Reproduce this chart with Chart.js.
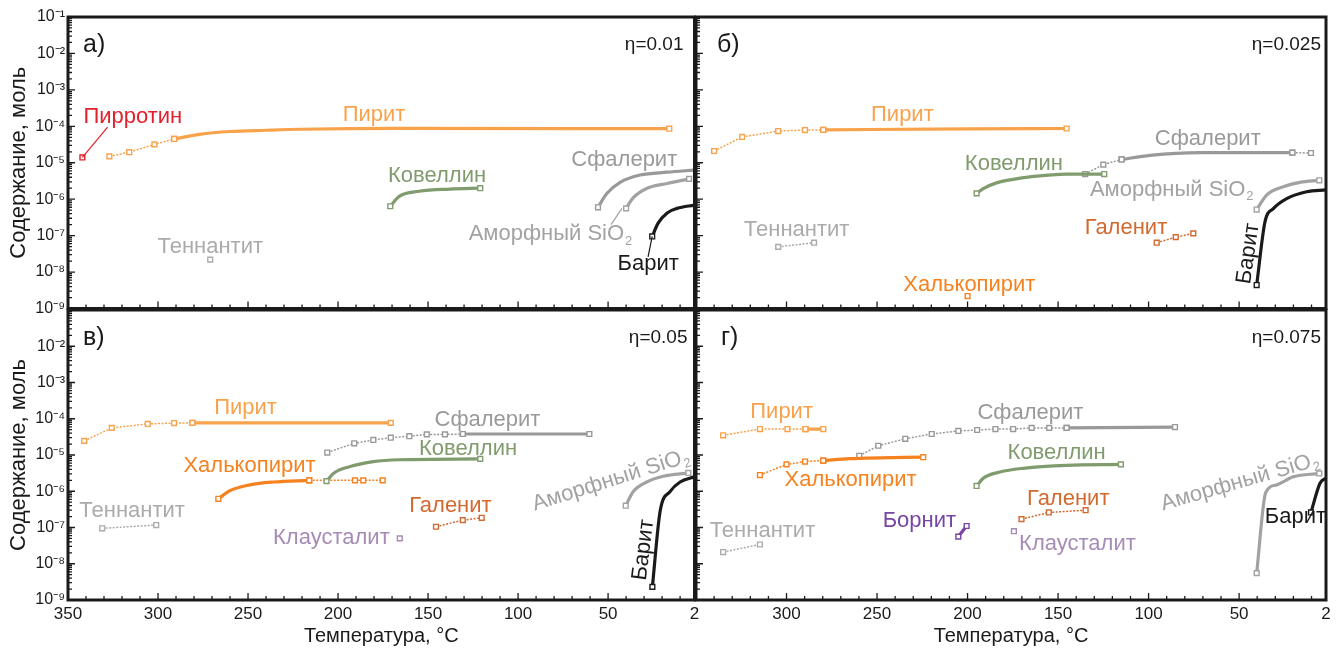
<!DOCTYPE html>
<html>
<head>
<meta charset="utf-8">
<script src="https://cdn.jsdelivr.net/npm/chart.js@4.4.1/dist/chart.umd.min.js"></script>
<style>
  body { margin: 0; background: #fff; width: 1343px; height: 655px; position: relative; overflow: hidden; }
  canvas { position: absolute; }
</style>
</head>
<body>
<canvas id="pa" width="697" height="330" style="left:0;top:0"></canvas>
<canvas id="pb" width="653" height="330" style="left:690px;top:0"></canvas>
<canvas id="pc" width="707" height="365" style="left:0;top:290px"></canvas>
<canvas id="pd" width="653" height="365" style="left:690px;top:290px"></canvas>
<script>
// axis ticks
const X_TICKS_LEFT = [350, 300, 250, 200, 150, 100, 50, 2];
const X_TICKS_RIGHT = [300, 250, 200, 150, 100, 50, 2];
const Y_TICKS_TOP = [1e-1, 1e-2, 1e-3, 1e-4, 1e-5, 1e-6, 1e-7, 1e-8, 1e-9];
const Y_TICKS_BOTTOM = [1e-2, 1e-3, 1e-4, 1e-5, 1e-6, 1e-7, 1e-8, 1e-9];

// а) eta = 0.01   [temperature, mol]
const A_PYRRHOTITE = [[342, 1.4e-5]];
const A_PYRITE_DOT = [[327, 1.5e-5], [316, 1.95e-5], [302, 3.2e-5], [291, 4.5e-5]];
const A_PYRITE_LINE = [[291, 4.5e-5], [277, 6.0e-5], [260, 7.2e-5], [240, 7.8e-5], [221, 8.3e-5], [166, 8.8e-5], [16, 8.6e-5]];
const A_COVELLITE_LINE = [[171, 6.4e-7], [166, 1.2e-6], [155, 1.65e-6], [138, 1.9e-6], [121, 2.0e-6]];
const A_SPHALERITE_LINE = [[55.6, 6.0e-7], [50.6, 1.45e-6], [43.3, 2.9e-6], [32.2, 4.6e-6], [17.2, 5.5e-6], [2, 6.3e-6]];
const A_SIO2_LINE = [[40, 5.6e-7], [36, 1.1e-6], [28.3, 2.0e-6], [17.2, 2.7e-6], [5, 3.6e-6]];
const A_BARITE_LINE = [[25.5, 9.5e-8], [22.2, 2.2e-7], [17.2, 4.2e-7], [11.7, 5.6e-7], [2, 6.9e-7]];
const A_TENNANTITE = [[271, 2.2e-8]];

// б) eta = 0.025
const B_PYRITE_DOT = [[340, 2.1e-5], [324.5, 5.1e-5], [304.6, 7.4e-5], [289.8, 7.9e-5], [279.7, 8.0e-5]];
const B_PYRITE_LINE = [[279.7, 8.0e-5], [200, 8.5e-5], [145.3, 8.7e-5]];
const B_TENNANTITE_DOT = [[304.6, 4.9e-8], [284.8, 6.4e-8]];
const B_CHALCOPYRITE = [[200, 2.2e-9]];
const B_COVELLITE_LINE = [[195, 1.44e-6], [191.3, 1.95e-6], [184, 2.8e-6], [174.8, 3.5e-6], [165.5, 4.1e-6], [145.3, 4.9e-6], [124.5, 4.9e-6]];
const B_SPHALERITE_DOT = [[135.1, 4.9e-6], [125, 8.9e-6], [114.9, 1.23e-5]];
const B_SPHALERITE_LINE = [[114.9, 1.23e-5], [99.2, 1.6e-5], [71.6, 1.9e-5], [20.6, 1.9e-5]];
const B_SPHALERITE_TAIL = [[20.6, 1.9e-5], [10.3, 1.85e-5]];
const B_SIO2_LINE = [[40.3, 5.2e-7], [34.8, 1.3e-6], [25.6, 2.2e-6], [16.4, 2.9e-6], [5.7, 3.3e-6]];
const B_BARITE_LINE = [[40.3, 4.4e-9], [35.7, 2.4e-7], [31.1, 5.5e-7], [23.7, 1.04e-6], [12.7, 1.6e-6], [2, 1.8e-6]];
const B_GALENA_DOT = [[95.5, 6.4e-8], [85, 9.1e-8], [75.3, 1.15e-7]];

// в) eta = 0.05
const C_PYRITE_DOT = [[341, 2.45e-5], [325.7, 5.6e-5], [305.7, 7.2e-5], [291.1, 7.6e-5], [280.9, 7.7e-5]];
const C_PYRITE_LINE = [[280.9, 7.7e-5], [170.7, 7.7e-5]];
const C_TENNANTITE_DOT = [[331, 9.5e-8], [301, 1.17e-7]];
const C_CHALCOPYRITE_LINE = [[266.5, 6.2e-7], [260, 1.04e-6], [249, 1.5e-6], [235.7, 1.8e-6], [216, 2.0e-6]];
const C_CHALCOPYRITE_DOT = [[216, 2.0e-6], [190.6, 2.0e-6], [186, 2.0e-6], [175.2, 2.0e-6]];
const C_COVELLITE_LINE = [[206.4, 1.9e-6], [202.6, 3.1e-6], [193.3, 4.8e-6], [180.4, 6.6e-6], [165.6, 7.4e-6], [121, 7.8e-6]];
const C_SPHALERITE_DOT = [[206, 1.17e-5], [191, 2.1e-5], [180.4, 2.6e-5], [170.7, 3.0e-5], [160.4, 3.3e-5], [150.7, 3.7e-5], [140.6, 3.7e-5], [130.7, 3.8e-5]];
const C_SPHALERITE_LINE = [[130.7, 3.8e-5], [60.4, 3.8e-5]];
const C_GALENA_DOT = [[145.6, 1.05e-7], [130.7, 1.6e-7], [120.2, 1.85e-7]];
const C_CLAUSTHALITE = [[165.7, 5.0e-8]];
const C_SIO2_LINE = [[40.2, 4.0e-7], [36, 9.8e-7], [28.5, 1.8e-6], [19.3, 2.6e-6], [5.4, 3.2e-6]];
const C_BARITE_LINE = [[25.4, 2.3e-9], [21.1, 2.8e-7], [15.6, 9.8e-7], [10, 1.8e-6], [2, 2.5e-6]];

// г) eta = 0.075
const D_PYRITE_DOT = [[335, 3.5e-5], [314.7, 5.2e-5], [299.5, 5.2e-5], [289.5, 5.2e-5]];
const D_PYRITE_LINE = [[289.5, 5.2e-5], [279.7, 5.2e-5]];
const D_CHALCOPYRITE_DOT = [[314.7, 2.8e-6], [300, 5.5e-6], [289.8, 6.6e-6], [279.7, 7.0e-6]];
const D_CHALCOPYRITE_LINE = [[279.7, 7.0e-6], [265, 7.9e-6], [254.9, 8.2e-6], [224.5, 8.7e-6]];
const D_SPHALERITE_DOT = [[259.8, 9.5e-6], [249.3, 1.8e-5], [234.4, 2.8e-5], [219.8, 3.8e-5], [205.1, 4.6e-5], [194.7, 4.9e-5], [184.6, 5.2e-5], [174.8, 5.2e-5], [164.6, 5.6e-5], [154.9, 5.6e-5], [145.3, 5.6e-5]];
const D_SPHALERITE_LINE = [[145.3, 5.6e-5], [85.4, 5.9e-5]];
const D_COVELLITE_LINE = [[195, 1.4e-6], [191.3, 2.3e-6], [182.1, 3.4e-6], [169.2, 4.3e-6], [145.3, 5.2e-6], [115.3, 5.5e-6]];
const D_GALENA_DOT = [[170.2, 1.7e-7], [155.1, 2.6e-7], [134.8, 3.0e-7]];
const D_CLAUSTHALITE = [[174.4, 7.9e-8]];
const D_BORNITE_LINE = [[205.1, 5.6e-8], [200.5, 1.1e-7]];
const D_TENNANTITE_DOT = [[335, 2.1e-8], [314.7, 3.4e-8]];
const D_SIO2_LINE = [[40.3, 5.5e-9], [35.3, 9.2e-7], [29.2, 1.5e-6], [20.1, 2.5e-6], [5.7, 3.1e-6]];
const D_BARITE_LINE = [[10.3, 2.6e-7], [5.3, 1.66e-6], [2, 2.3e-6]];

// text labels: [text, temperature, mol, rotation]
const A_LABELS = [['Пирротин', 314, 1.8e-4, 0], ['Пирит', 180, 2.0e-4, 0], ['Ковеллин', 145, 4.3e-6, 0], ['Сфалерит', 41, 1.2e-5, 0],
  ['Аморфный SiO_2', 82, 1.1e-7, 0], ['Барит', 27.7, 1.7e-8, 0], ['Теннантит', 271, 4.8e-8, 0]];
const B_LABELS = [['Пирит', 236, 2.0e-4, 0], ['Ковеллин', 174.4, 9.5e-6, 0], ['Сфалерит', 67.3, 4.6e-5, 0], ['Аморфный SiO_2', 87.2, 1.8e-6, 0],
  ['Галенит', 112.5, 1.6e-7, 0], ['Халькопирит', 199, 4.4e-9, 0], ['Теннантит', 294.4, 1.4e-7, 0], ['Барит', 44.9, 3.2e-8, -82]];
const C_LABELS = [['Пирит', 251.4, 1.94e-4, 0], ['Халькопирит', 249.2, 5.0e-6, 0], ['Теннантит', 314.4, 2.9e-7, 0], ['Клаусталит', 203.7, 5.3e-8, 0],
  ['Сфалерит', 117, 9.3e-5, 0], ['Ковеллин', 127.8, 1.44e-5, 0], ['Галенит', 137.6, 3.9e-7, 0], ['Аморфный SiO_2', 48.4, 2.0e-6, -17.5], ['Барит', 30.4, 2.4e-8, -83]];
const D_LABELS = [['Пирит', 302.7, 1.55e-4, 0], ['Халькопирит', 264.6, 2.0e-6, 0], ['Теннантит', 313.3, 7.9e-8, 0], ['Сфалерит', 165.3, 1.48e-4, 0],
  ['Ковеллин', 150.8, 1.15e-5, 0], ['Галенит', 144.4, 6.2e-7, 0], ['Клаусталит', 139.3, 3.5e-8, 0], ['Борнит', 226.6, 1.5e-7, 0],
  ['Барит', 18.9, 1.9e-7, 0], ['Аморфный SiO_2', 49.5, 1.8e-6, -16]];
// leader lines in panel а
const A_LEADERS = [[[342, 1.4e-5], [328, 9.5e-5]], [[48.4, 2.0e-7], [42.3, 5.6e-7]], [[25.5, 9.5e-8], [27.8, 2.6e-8]]];

const FONT = '"Liberation Sans", Arial, Helvetica, sans-serif';
Chart.defaults.font.family = FONT;
Chart.defaults.color = '#1a1a1a';

const COL = {
  pyrite: '#f8a24b', pyrrhotite: '#e41f2c', covellite: '#809b6d', sphalerite: '#999999', sio2: '#a2a2a2',
  barite: '#1a1a1a', tennantite: '#ababab', chalcopyrite: '#f5821f', galena: '#d2692f', clausthalite: '#a68bb6', bornite: '#7745a6'
};
const LABEL_COL = {
  'Пирротин': COL.pyrrhotite, 'Пирит': COL.pyrite, 'Ковеллин': COL.covellite, 'Сфалерит': COL.sphalerite, 'Аморфный SiO_2': COL.sio2,
  'Барит': COL.barite, 'Теннантит': COL.tennantite, 'Халькопирит': COL.chalcopyrite, 'Галенит': COL.galena, 'Клаусталит': COL.clausthalite, 'Борнит': COL.bornite
};
const LEADER_COL = [COL.pyrrhotite, COL.sio2, COL.barite];

function pts(arr) { return arr.map(([x, y]) => ({ x, y })); }

function dotted(arr, color) {
  return {
    data: pts(arr), showLine: true, borderColor: color, borderWidth: 1.5, borderDash: [2, 1.5],
    pointStyle: 'rect', pointRadius: 3.4, pointBorderWidth: 1.4, pointBorderColor: color, pointBackgroundColor: '#fff', order: 1
  };
}

function solid(arr, color) {
  return {
    data: pts(arr), showLine: true, borderColor: color, borderWidth: 3.2, cubicInterpolationMode: 'monotone',
    borderCapStyle: 'round', borderJoinStyle: 'round', pointStyle: 'rect', pointBorderWidth: 1.4,
    pointBorderColor: color, pointBackgroundColor: '#fff', order: 0,
    pointRadius: function(ctx) {
      const n = ctx.dataset.data.length;
      const p = ctx.dataset.data[ctx.dataIndex];
      return (ctx.dataIndex === 0 || ctx.dataIndex === n - 1) && p.x > 2.5 ? 3.4 : 0;
    }
  };
}

const SUP = { '-': '⁻', '0': '⁰', '1': '¹', '2': '²', '3': '³', '4': '⁴', '5': '⁵', '6': '⁶', '7': '⁷', '8': '⁸', '9': '⁹' };
function decade(v) {
  const e = String(Math.round(Math.log10(v)));
  return '10' + e.split('').map(c => SUP[c]).join('');
}

// frame and inward minor/major ticks
const framePlugin = {
  id: 'frame',
  afterDraw(chart) {
    const { ctx, chartArea: a, scales: { x, y } } = chart;
    ctx.save();
    ctx.strokeStyle = '#1a1a1a';
    ctx.lineWidth = 1.3;
    ctx.beginPath();
    for (let t = 10; t <= 350; t += 10) {
      const px = x.getPixelForValue(t);
      ctx.moveTo(px, a.bottom);
      ctx.lineTo(px, a.bottom - (t % 50 === 0 ? 7 : 4));
    }
    for (let e = -9; e <= -2; e++) {
      for (let k = 1; k <= 9; k++) {
        const py = y.getPixelForValue(k * Math.pow(10, e));
        ctx.moveTo(a.left, py);
        ctx.lineTo(a.left + (k === 1 ? 7 : 4), py);
      }
    }
    ctx.stroke();
    ctx.lineWidth = 3;
    ctx.strokeRect(a.left, a.top, a.right - a.left, a.bottom - a.top);
    ctx.restore();
  }
};

function labelPlugin(labels, leaders, letter, letterDx, eta, etaDx) {
  return {
    id: 'minerals',
    afterDatasetsDraw(chart) {
      const { ctx, chartArea: a, scales: { x, y } } = chart;
      ctx.save();
      leaders.forEach(([p1, p2], i) => {
        ctx.strokeStyle = LEADER_COL[i];
        ctx.lineWidth = 1.2;
        ctx.beginPath();
        ctx.moveTo(x.getPixelForValue(p1[0]), y.getPixelForValue(p1[1]));
        ctx.lineTo(x.getPixelForValue(p2[0]), y.getPixelForValue(p2[1]));
        ctx.stroke();
      });
      labels.forEach(([text, t, v, rot]) => {
        ctx.save();
        ctx.translate(x.getPixelForValue(t), y.getPixelForValue(v));
        ctx.rotate(rot * Math.PI / 180);
        ctx.fillStyle = LABEL_COL[text];
        ctx.textBaseline = 'middle';
        ctx.textAlign = 'left';
        let main = text, sub = '';
        if (text.endsWith('_2')) { main = text.slice(0, -2); sub = '2'; }
        ctx.font = '22px ' + FONT;
        const w1 = ctx.measureText(main).width;
        ctx.font = '13px ' + FONT;
        const w2 = sub ? ctx.measureText(sub).width + 1 : 0;
        const x0 = -(w1 + w2) / 2;
        ctx.font = '22px ' + FONT;
        ctx.fillText(main, x0, 0);
        if (sub) {
          ctx.font = '13px ' + FONT;
          ctx.fillText(sub, x0 + w1 + 1, 7);
        }
        ctx.restore();
      });
      ctx.fillStyle = '#1a1a1a';
      ctx.textBaseline = 'middle';
      ctx.font = '25px ' + FONT;
      ctx.textAlign = 'left';
      ctx.fillText(letter, a.left + letterDx, a.top + 28);
      ctx.font = '19px ' + FONT;
      ctx.textAlign = 'right';
      ctx.fillText(eta, a.right - etaDx, a.top + 28);
      ctx.restore();
    }
  };
}

function makePanel(id, o) {
  new Chart(document.getElementById(id), {
    type: 'scatter',
    data: { datasets: o.datasets },
    options: {
      responsive: false,
      animation: false,
      events: [],
      layout: { padding: o.padding, autoPadding: false },
      plugins: { legend: { display: false }, tooltip: { enabled: false } },
      scales: {
        x: {
          type: 'linear', min: 2, max: 350, reverse: true,
          display: o.xTicks !== null,
          grid: { display: false, drawTicks: false },
          border: { display: false },
          afterBuildTicks: s => { s.ticks = (o.xTicks || []).map(v => ({ value: v })); },
          afterFit: s => { s.height = o.xTicks ? 55 : 0; },
          ticks: { autoSkip: false, maxRotation: 0, padding: 4, font: { size: 17 }, color: '#1a1a1a', callback: v => String(v) },
          title: { display: true, text: 'Температура, °C', font: { size: 20 }, color: '#1a1a1a', padding: { top: 0, bottom: 7 } }
        },
        y: {
          type: 'logarithmic', min: 1e-9, max: 1e-1,
          display: o.yTicks !== null,
          grid: { display: false, drawTicks: false },
          border: { display: false },
          afterBuildTicks: s => { s.ticks = (o.yTicks || []).map(v => ({ value: v })); },
          afterFit: s => { s.width = o.yTicks ? 68 : 0; },
          ticks: { autoSkip: false, padding: 3, font: { size: 16 }, color: '#1a1a1a', callback: v => decade(v) },
          title: { display: true, text: 'Содержание, моль', font: { size: 22 }, color: '#1a1a1a', padding: { top: 6, bottom: 0 } }
        }
      }
    },
    plugins: [framePlugin, labelPlugin(o.labels, o.leaders || [], o.letter, o.letterDx, o.eta, o.etaDx)]
  });
}

makePanel('pa', {
  padding: { left: 0, right: 2.5, top: 17, bottom: 21.5 },
  xTicks: null, yTicks: Y_TICKS_TOP,
  labels: A_LABELS, leaders: A_LEADERS, letter: 'а)', letterDx: 15, eta: 'η=0.01', etaDx: 11,
  datasets: [
    dotted(A_PYRRHOTITE, COL.pyrrhotite),
    dotted(A_PYRITE_DOT, COL.pyrite), solid(A_PYRITE_LINE, COL.pyrite),
    solid(A_COVELLITE_LINE, COL.covellite),
    solid(A_SPHALERITE_LINE, COL.sphalerite),
    solid(A_SIO2_LINE, COL.sio2),
    solid(A_BARITE_LINE, COL.barite),
    dotted(A_TENNANTITE, COL.tennantite)
  ]
});

makePanel('pb', {
  padding: { left: 6, right: 17, top: 17, bottom: 21.5 },
  xTicks: null, yTicks: null,
  labels: B_LABELS, letter: 'б)', letterDx: 21, eta: 'η=0.025', etaDx: 5,
  datasets: [
    dotted(B_PYRITE_DOT, COL.pyrite), solid(B_PYRITE_LINE, COL.pyrite),
    dotted(B_TENNANTITE_DOT, COL.tennantite),
    dotted(B_CHALCOPYRITE, COL.chalcopyrite),
    solid(B_COVELLITE_LINE, COL.covellite),
    dotted(B_SPHALERITE_DOT, COL.sphalerite), solid(B_SPHALERITE_LINE, COL.sphalerite), dotted(B_SPHALERITE_TAIL, COL.sphalerite),
    solid(B_SIO2_LINE, COL.sio2),
    solid(B_BARITE_LINE, COL.barite),
    dotted(B_GALENA_DOT, COL.galena)
  ]
});

makePanel('pc', {
  padding: { left: 0, right: 12.5, top: 20, bottom: 0 },
  xTicks: X_TICKS_LEFT, yTicks: Y_TICKS_BOTTOM,
  labels: C_LABELS, letter: 'в)', letterDx: 15, eta: 'η=0.05', etaDx: 7,
  datasets: [
    dotted(C_PYRITE_DOT, COL.pyrite), solid(C_PYRITE_LINE, COL.pyrite),
    dotted(C_TENNANTITE_DOT, COL.tennantite),
    solid(C_CHALCOPYRITE_LINE, COL.chalcopyrite), dotted(C_CHALCOPYRITE_DOT, COL.chalcopyrite),
    solid(C_COVELLITE_LINE, COL.covellite),
    dotted(C_SPHALERITE_DOT, COL.sphalerite), solid(C_SPHALERITE_LINE, COL.sphalerite),
    dotted(C_GALENA_DOT, COL.galena),
    dotted(C_CLAUSTHALITE, COL.clausthalite),
    solid(C_SIO2_LINE, COL.sio2),
    solid(C_BARITE_LINE, COL.barite)
  ]
});

makePanel('pd', {
  padding: { left: 6, right: 17, top: 20, bottom: 0 },
  xTicks: X_TICKS_RIGHT, yTicks: null,
  labels: D_LABELS, letter: 'г)', letterDx: 25, eta: 'η=0.075', etaDx: 5,
  datasets: [
    dotted(D_PYRITE_DOT, COL.pyrite), solid(D_PYRITE_LINE, COL.pyrite),
    dotted(D_CHALCOPYRITE_DOT, COL.chalcopyrite), solid(D_CHALCOPYRITE_LINE, COL.chalcopyrite),
    dotted(D_SPHALERITE_DOT, COL.sphalerite), solid(D_SPHALERITE_LINE, COL.sphalerite),
    solid(D_COVELLITE_LINE, COL.covellite),
    dotted(D_GALENA_DOT, COL.galena),
    dotted(D_CLAUSTHALITE, COL.clausthalite),
    solid(D_BORNITE_LINE, COL.bornite),
    dotted(D_TENNANTITE_DOT, COL.tennantite),
    solid(D_SIO2_LINE, COL.sio2),
    solid(D_BARITE_LINE, COL.barite)
  ]
});
</script>
</body>
</html>
